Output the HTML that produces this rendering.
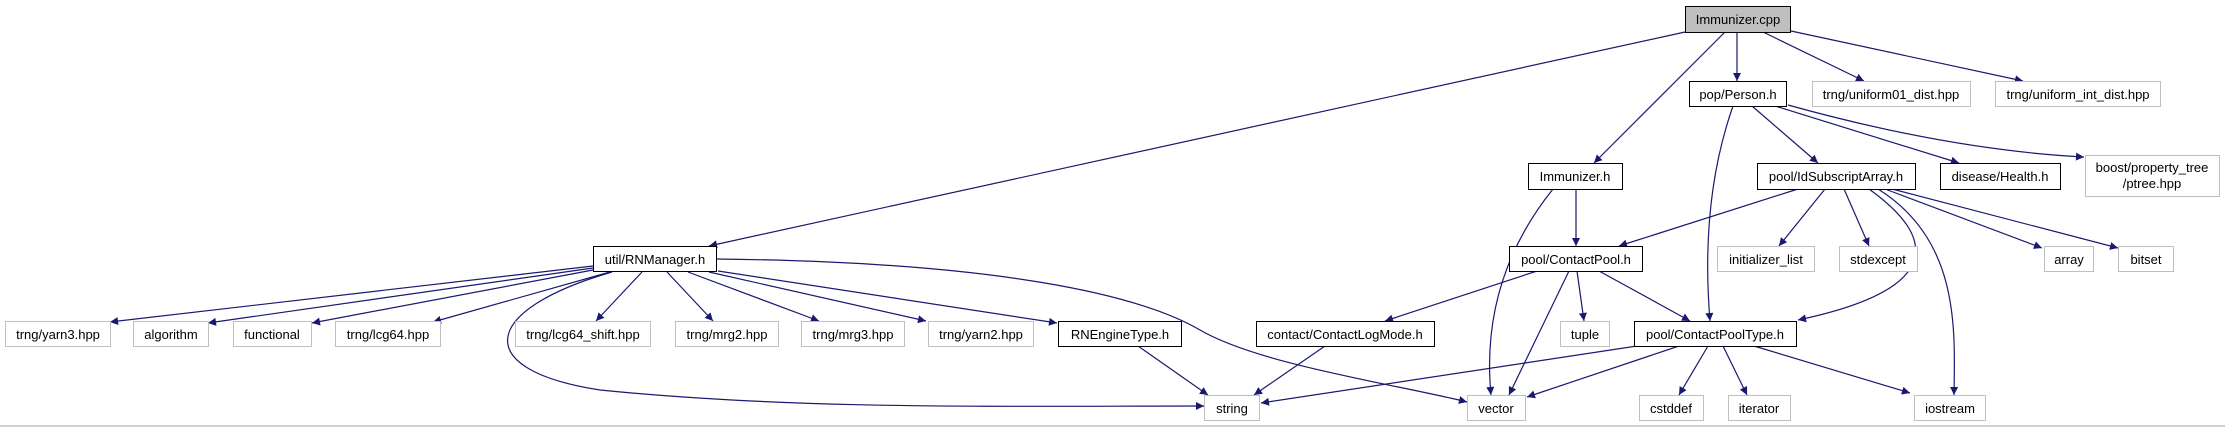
<!DOCTYPE html>
<html><head><meta charset="utf-8"><style>
html,body{margin:0;padding:0;background:#fff;}
svg{display:block;}
text{font-family:"Liberation Sans",sans-serif;font-size:13px;fill:#000;}
</style></head><body>
<svg width="2225" height="427" viewBox="0 0 2225 427" xmlns="http://www.w3.org/2000/svg">
<defs><marker id="a" viewBox="0 0 10 10" refX="10" refY="5" markerWidth="10" markerHeight="8" markerUnits="userSpaceOnUse" orient="auto"><path d="M0,0L10,5L0,10z" fill="#191970"/></marker></defs>
<g fill="none" stroke="#191970" stroke-width="1.2" marker-end="url(#a)">
<path d="M1685,32L709,246"/>
<path d="M1725,32L1594,163"/>
<path d="M1737,32L1737,81"/>
<path d="M1763,32L1864,81"/>
<path d="M1791,31L2023,81"/>
<path d="M1733,106Q1700,200 1710,321"/>
<path d="M1752,106L1818,163"/>
<path d="M1775,106L1959,163"/>
<path d="M1788,105Q1950,150 2084,157"/>
<path d="M1576,189L1576,246"/>
<path d="M1553,189Q1480,280 1491,395"/>
<path d="M1798,189L1619,246"/>
<path d="M1825,189L1779,246"/>
<path d="M1844,189L1869,246"/>
<path d="M1869,189C1940,240 1940,290 1798,320"/>
<path d="M1878,189C1960,240 1955,330 1954,395"/>
<path d="M1885,189L2042,248"/>
<path d="M1892,189L2118,248"/>
<path d="M1537,271L1385,321"/>
<path d="M1577,271L1584,321"/>
<path d="M1599,271L1690,321"/>
<path d="M1569,271L1509,395"/>
<path d="M1325,346L1254,395"/>
<path d="M1138,346L1208,395"/>
<path d="M1637,346L1261,403"/>
<path d="M1679,346L1527,397"/>
<path d="M1708,346L1679,395"/>
<path d="M1723,346L1747,395"/>
<path d="M1754,346L1910,393"/>
<path d="M593,266L110,322"/>
<path d="M593,268L208,323"/>
<path d="M593,270L312,323"/>
<path d="M610,272L433,322"/>
<path d="M642,272L596,321"/>
<path d="M667,272L713,321"/>
<path d="M688,272L819,321"/>
<path d="M709,272L926,321"/>
<path d="M718,271L1057,323"/>
<path d="M716,259C1000,262 1140,295 1200,330C1260,365 1400,385 1467,402"/>
<path d="M612,272C480,310 470,370 600,390C800,410 1000,406 1204,406"/>
</g>
<g stroke-width="1">
<rect x="1685.5" y="6.5" width="105" height="26" fill="#bfbfbf" stroke="#000"/>
<g fill="#fff" stroke="#000">
<rect x="593.5" y="246.5" width="123" height="25"/>
<rect x="1058.5" y="321.5" width="123" height="25"/>
<rect x="1689.5" y="81.5" width="97" height="25"/>
<rect x="1528.5" y="163.5" width="94" height="26"/>
<rect x="1757.5" y="163.5" width="158" height="26"/>
<rect x="1940.5" y="163.5" width="120" height="26"/>
<rect x="1509.5" y="246.5" width="133" height="25"/>
<rect x="1256.5" y="321.5" width="178" height="25"/>
<rect x="1634.5" y="321.5" width="162" height="25"/>
</g>
<g fill="#fff" stroke="#bfbfbf">
<rect x="5.5" y="321.5" width="105" height="25"/>
<rect x="133.5" y="321.5" width="75" height="25"/>
<rect x="233.5" y="321.5" width="78" height="25"/>
<rect x="335.5" y="321.5" width="105" height="25"/>
<rect x="515.5" y="321.5" width="135" height="25"/>
<rect x="675.5" y="321.5" width="103" height="25"/>
<rect x="801.5" y="321.5" width="103" height="25"/>
<rect x="928.5" y="321.5" width="105" height="25"/>
<rect x="1812.5" y="81.5" width="158" height="25"/>
<rect x="1995.5" y="81.5" width="165" height="25"/>
<rect x="2085.5" y="155.5" width="134" height="41"/>
<rect x="1717.5" y="246.5" width="97" height="25"/>
<rect x="1839.5" y="246.5" width="78" height="25"/>
<rect x="2044.5" y="246.5" width="49" height="25"/>
<rect x="2118.5" y="246.5" width="55" height="25"/>
<rect x="1560.5" y="321.5" width="49" height="25"/>
<rect x="1204.5" y="395.5" width="55" height="25"/>
<rect x="1467.5" y="395.5" width="58" height="25"/>
<rect x="1639.5" y="395.5" width="64" height="25"/>
<rect x="1728.5" y="395.5" width="62" height="25"/>
<rect x="1914.5" y="395.5" width="71" height="25"/>
</g>
</g>
<g text-anchor="middle">
<text x="1738" y="24">Immunizer.cpp</text>
<text x="655" y="264">util/RNManager.h</text>
<text x="1120" y="339">RNEngineType.h</text>
<text x="1738" y="99">pop/Person.h</text>
<text x="1575" y="181">Immunizer.h</text>
<text x="1836" y="181">pool/IdSubscriptArray.h</text>
<text x="2000" y="181">disease/Health.h</text>
<text x="1576" y="264">pool/ContactPool.h</text>
<text x="1345" y="339">contact/ContactLogMode.h</text>
<text x="1715" y="339">pool/ContactPoolType.h</text>
<text x="58" y="339">trng/yarn3.hpp</text>
<text x="171" y="339">algorithm</text>
<text x="272" y="339">functional</text>
<text x="388" y="339">trng/lcg64.hpp</text>
<text x="583" y="339">trng/lcg64_shift.hpp</text>
<text x="727" y="339">trng/mrg2.hpp</text>
<text x="853" y="339">trng/mrg3.hpp</text>
<text x="981" y="339">trng/yarn2.hpp</text>
<text x="1891" y="99">trng/uniform01_dist.hpp</text>
<text x="2078" y="99">trng/uniform_int_dist.hpp</text>
<text x="2152" y="172">boost/property_tree</text>
<text x="2152" y="188">/ptree.hpp</text>
<text x="1766" y="264">initializer_list</text>
<text x="1878" y="264">stdexcept</text>
<text x="2069" y="264">array</text>
<text x="2146" y="264">bitset</text>
<text x="1585" y="339">tuple</text>
<text x="1232" y="413">string</text>
<text x="1496" y="413">vector</text>
<text x="1671" y="413">cstddef</text>
<text x="1759" y="413">iterator</text>
<text x="1950" y="413">iostream</text>
</g>
<line x1="0" y1="426" x2="2225" y2="426" stroke="#bfbfbf" stroke-width="1.5"/>
</svg>
</body></html>
